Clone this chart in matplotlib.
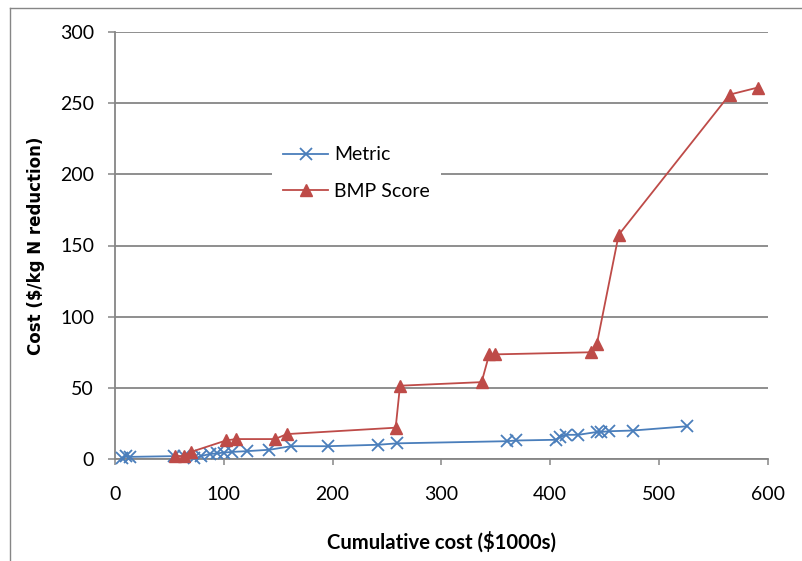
import matplotlib
matplotlib.use("Agg")
import matplotlib.pyplot as plt
from matplotlib.lines import Line2D

# Cumulative cost ($1000s) and unit cost ($/kg N reduction) for each ranking
metric_x = [6, 10, 14, 54, 63, 73, 79, 87, 94, 100, 108, 121, 142, 162, 196,
            242, 259, 360, 369, 405, 409, 415, 426, 443, 447, 454, 476, 526]
metric_y = [0.5, 2, 1.5, 2, 2, 0.5, 2, 3.5, 4, 4.5, 5, 5.5, 6.5, 9, 9,
            10, 11, 12.5, 13, 13.5, 15.5, 17, 17, 19, 19, 19.5, 20, 23]

bmp_x = [55, 63, 70, 102, 111, 147, 158, 258, 262, 337, 344, 349, 438, 443,
         463, 565, 591]
bmp_y = [2, 2, 5, 13, 14, 14, 17.5, 22, 51.5, 54, 73.5, 73.5, 75, 81,
         157.5, 256, 261]

x_ticks = [0, 100, 200, 300, 400, 500, 600]
y_ticks = [0, 50, 100, 150, 200, 250, 300]

series_names = ["Metric", "BMP Score"]
x_label = "Cumulative cost ($1000s)"
y_label = "Cost ($/kg N reduction)"

blue = "#4A7EBB"
red = "#BE4B48"
gray = "#868686"

fig = plt.figure(figsize=(8.02, 5.61), dpi=100)
ax = fig.add_axes([115 / 802, 1 - 459 / 561, (767.7 - 115) / 802, (459 - 32) / 561])

ax.plot(metric_x, metric_y, color=blue, lw=1.3, marker="x", ms=9,
        mew=1.3, label=series_names[0], zorder=3, clip_on=False)
ax.plot(bmp_x, bmp_y, color=red, lw=1.3, marker="^", ms=9,
        mec=red, mfc=red, label=series_names[1], zorder=4, clip_on=False)

ax.set_xlim(0, 600)
ax.set_ylim(0, 300)
ax.set_xticks(x_ticks)
ax.set_yticks(y_ticks)

ax.grid(axis="y", color=gray, lw=1.3)
ax.set_axisbelow(True)
for side in ("top", "right"):
    ax.spines[side].set_visible(False)
for side in ("left", "bottom"):
    ax.spines[side].set_color(gray)
    ax.spines[side].set_linewidth(1.3)

ax.tick_params(axis="y", direction="out", length=5, width=1.1, color=gray,
               pad=10, labelsize=14)
ax.tick_params(axis="x", direction="out", length=4.5, width=1.1, color=gray,
               pad=15, labelsize=14)
for lab in ax.get_xticklabels() + ax.get_yticklabels():
    lab.set_fontfamily("Lato")

ax.set_xlabel(x_label, fontfamily="Lato", fontweight="bold", fontsize=14.6,
              labelpad=20)
ax.set_ylabel(y_label, fontfamily="DejaVu Sans", fontweight="bold",
              fontsize=12, labelpad=11)

leg = ax.legend(loc="upper left", bbox_to_anchor=(0.225, 0.782), frameon=True,
                framealpha=1, edgecolor="none", facecolor="white",
                prop={"family": "Lato", "size": 14}, handlelength=2.3,
                labelspacing=1.0, borderpad=0.6, handletextpad=0.3)
leg.set_zorder(5)

# thin frame around the chart area
fig.add_artist(Line2D([10 / 802, 10 / 802], [0, 1 - 8 / 561], color=gray,
                      lw=1.0, transform=fig.transFigure))
fig.add_artist(Line2D([10 / 802, 1], [1 - 8 / 561, 1 - 8 / 561], color=gray,
                      lw=1.0, transform=fig.transFigure))

fig.savefig("out.png", dpi=100)
